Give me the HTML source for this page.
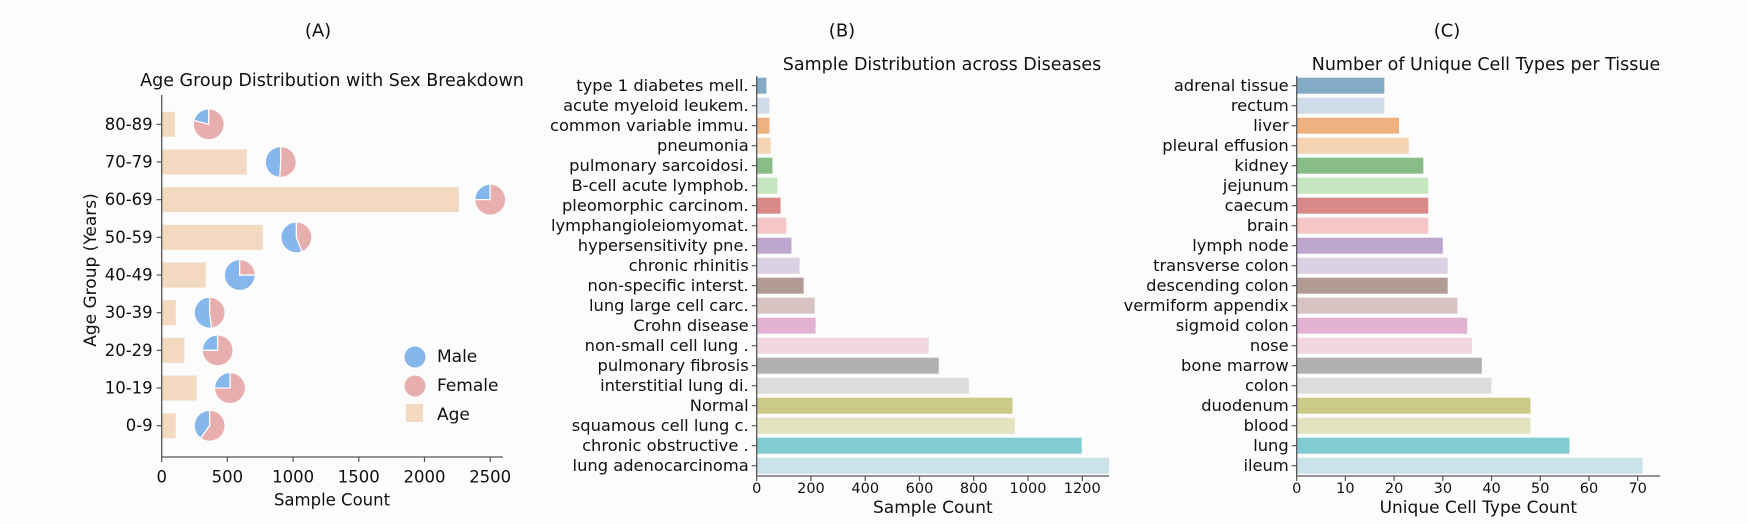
<!DOCTYPE html>
<html><head><meta charset="utf-8"><style>
body{margin:0;background:#fcfcfc;}
svg{display:block;font-family:"DejaVu Sans","Liberation Sans",sans-serif;}
</style></head><body>
<svg id="fig" width="1747" height="524" viewBox="0 0 1747 524" xmlns="http://www.w3.org/2000/svg">
<rect x="0" y="0" width="1747" height="524" fill="#fcfcfc"/>
<g id="pa"></g>
<g id="pb"></g>
<g id="pc"></g>
</svg>
<script>
const ageGroups=["80-89","70-79","60-69","50-59","40-49","30-39","20-29","10-19","0-9"];
const ageCounts=[100,647,2262,769,335,107,173,266,107];
const pieCenters=[358,906,2500,1025,594,365,426,520,365];
const maleFrac=[0.21,0.49,0.25,0.56,0.75,0.52,0.25,0.25,0.40];
const ageTicks=[0,500,1000,1500,2000,2500];

const diseases=["type 1 diabetes mell.","acute myeloid leukem.","common variable immu.","pneumonia","pulmonary sarcoidosi.","B-cell acute lymphob.","pleomorphic carcinom.","lymphangioleiomyomat.","hypersensitivity pne.","chronic rhinitis","non-specific interst.","lung large cell carc.","Crohn disease","non-small cell lung .","pulmonary fibrosis","interstitial lung di.","Normal","squamous cell lung c.","chronic obstructive .","lung adenocarcinoma"];
const diseaseCounts=[36,47,47,51,58,76,88,109,128,158,173,214,217,634,671,782,943,952,1198,1299];
const diseaseTicks=[0,200,400,600,800,1000,1200];

const tissues=["adrenal tissue","rectum","liver","pleural effusion","kidney","jejunum","caecum","brain","lymph node","transverse colon","descending colon","vermiform appendix","sigmoid colon","nose","bone marrow","colon","duodenum","blood","lung","ileum"];
const cellCounts=[18,18,21,23,26,27,27,27,30,31,31,33,35,36,38,40,48,48,56,71];
const cellTicks=[0,10,20,30,40,50,60,70];

const palette=["#85aac6","#d0dcea","#eeb17f","#f4d4b3","#89bd87","#c6e6c0","#d98989","#f6c6c7","#bea6ce","#dad2e3","#b39b95","#d7c4c2","#e2b2d4","#f4d6e2","#b0b0b0","#dcdcdc","#cbca88","#e3e3c0","#82cbd2","#c9e3e9"];
const NS="http://www.w3.org/2000/svg";
function mk(p,tag,attrs,txt){const e=document.createElementNS(NS,tag);for(const k in attrs)e.setAttribute(k,attrs[k]);if(txt!==undefined)e.textContent=txt;p.appendChild(e);return e;}
const AX="#555";
function label(g,x,y,txt,anchor,size){return mk(g,"text",{x:x,y:y,"text-anchor":anchor||"middle","dominant-baseline":"central","font-size":size||15,fill:"#111"},txt);}

// ---------- Panel A ----------
(function(){
const g=document.getElementById("pa");
const x0=161.7,kx=0.1314,y0=124.3,dy=37.68,yTop=95,yBot=457,xEnd=503;
const X=v=>x0+v*kx, Y=i=>y0+i*dy;
let t=label(g,318,31,"(A)","middle",18);


t=label(g,332,81,"Age Group Distribution with Sex Breakdown","middle",17.5);


ageGroups.forEach((a,i)=>{
 let r=mk(g,"rect",{x:x0,y:Y(i)-12.5,width:X(ageCounts[i])-x0,height:25,fill:"#f2d9bf"});
 
 
 mk(g,"line",{x1:x0-5,x2:x0,y1:Y(i),y2:Y(i),stroke:AX,"stroke-width":1.2});
 let tl=label(g,x0-9,Y(i),a,"end",16.5);
 
 
 const cx=X(pieCenters[i]),cy=Y(i),R=15.5,f=maleFrac[i];
 const pg=mk(g,"g",{});
 
 
 const a0=-Math.PI/2, a1=a0-2*Math.PI*f;
 const p=(ang)=>[cx+R*Math.cos(ang),cy+R*Math.sin(ang)];
 const [sx,sy]=p(a0),[ex,ey]=p(a1);
 const large=f>0.5?1:0;
 mk(pg,"path",{d:`M${cx},${cy} L${sx},${sy} A${R},${R} 0 ${large} 0 ${ex},${ey} Z`,fill:"#85b6ec",stroke:"#fff","stroke-width":1.2});
 mk(pg,"path",{d:`M${cx},${cy} L${ex},${ey} A${R},${R} 0 ${1-large} 0 ${sx},${sy} Z`,fill:"#e8aeae",stroke:"#fff","stroke-width":1.2});
});
mk(g,"line",{x1:x0,x2:x0,y1:yTop,y2:yBot,stroke:AX,"stroke-width":1.3});
mk(g,"line",{x1:x0,x2:xEnd,y1:yBot,y2:yBot,stroke:AX,"stroke-width":1.3});
ageTicks.forEach(v=>{
 mk(g,"line",{x1:X(v),x2:X(v),y1:yBot,y2:yBot+5,stroke:AX,"stroke-width":1.2});
 let tl=label(g,X(v),477,String(v),"middle",16.5);
 
 
});
t=label(g,332,500,"Sample Count","middle",16.5);


t=mk(g,"text",{x:91,y:270,"text-anchor":"middle","dominant-baseline":"central","font-size":17,fill:"#111",transform:"rotate(-90 91 270)"},"Age Group (Years)");


const lg=mk(g,"g",{});


mk(lg,"circle",{cx:415,cy:357,r:10.5,fill:"#85b6ec"});
label(lg,437,357,"Male","start",17);
mk(lg,"circle",{cx:415,cy:386,r:10.5,fill:"#e8aeae"});
label(lg,437,386,"Female","start",17);
mk(lg,"rect",{x:406,y:404,width:17,height:18,fill:"#f2d9bf"});
label(lg,437,415,"Age","start",17);
})();

// ---------- Bar panels ----------
function barPanel(id,cats,vals,ticks,x0,kx,xEnd,tag,title,titleX,xtitle,tagX){
 const g=document.getElementById(id);
 const y0=85.7,dy=20,yTop=76,yBot=476;
 const X=v=>x0+v*kx,Y=i=>y0+i*dy;
 let t=label(g,tagX,31,tag,"middle",18);
 
 
 t=label(g,titleX,65,title,"middle",17.5);
 
 
 cats.forEach((c,i)=>{
  let r=mk(g,"rect",{x:x0,y:Y(i)-8,width:X(vals[i])-x0,height:16,fill:palette[i%palette.length]});
  
  
  mk(g,"line",{x1:x0-5,x2:x0,y1:Y(i),y2:Y(i),stroke:AX,"stroke-width":1.2});
  let tl=label(g,x0-8,Y(i),c,"end",16.3);
  
  
 });
 mk(g,"line",{x1:x0,x2:x0,y1:yTop,y2:yBot,stroke:AX,"stroke-width":1.3});
 mk(g,"line",{x1:x0,x2:xEnd,y1:yBot,y2:yBot,stroke:AX,"stroke-width":1.3});
 ticks.forEach(v=>{
  mk(g,"line",{x1:X(v),x2:X(v),y1:yBot,y2:yBot+5,stroke:AX,"stroke-width":1.2});
  let tl=label(g,X(v),489,String(v),"middle",14.5);
  
  
 });
 t=label(g,(x0+xEnd)/2,508,xtitle,"middle",17);
 
 
}
barPanel("pb",diseases,diseaseCounts,diseaseTicks,756.7,0.2713,1109,"(B)","Sample Distribution across Diseases",942,"Sample Count",842);
barPanel("pc",tissues,cellCounts,cellTicks,1296.7,4.871,1660,"(C)","Number of Unique Cell Types per Tissue",1486,"Unique Cell Type Count",1447);
</script>
</body></html>
